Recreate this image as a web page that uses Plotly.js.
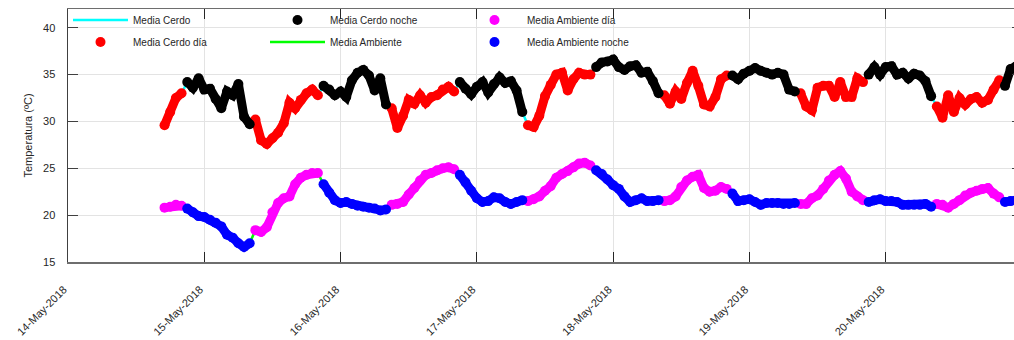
<!DOCTYPE html>
<html><head><meta charset="utf-8">
<script src="https://cdn.plot.ly/plotly-3.0.1.min.js"></script>
<style>html,body{margin:0;padding:0;overflow:hidden;background:#fff}#chart{width:1024px;height:340px}</style>
</head><body><div id="chart"></div><script>
// hourly samples starting 14-May-2018 17:00
const startTime = '2018-05-14T17:00:00Z';
const stepHours = 1;
const cerdo = [
29.6,31.0,32.5,33.0,34.2,33.6,34.6,33.4,33.5,32.4,
31.4,33.2,32.8,34.0,30.5,29.7,30.2,28.0,27.6,28.2,
28.8,29.8,32.0,31.4,32.3,33.0,33.4,32.8,33.8,33.4,
32.8,33.2,32.6,34.4,35.2,35.5,34.9,33.3,34.6,31.8,
31.4,29.3,30.6,32.3,31.9,32.8,32.0,32.6,32.8,33.4,
33.7,33.2,34.2,33.5,32.9,33.7,34.2,33.1,34.0,34.7,
34.1,34.3,33.3,31.0,29.6,29.4,30.6,32.7,33.9,35.0,
35.2,33.3,34.5,35.2,35.0,35.0,35.8,36.3,36.4,36.6,
35.8,35.5,35.9,36.0,35.2,35.3,34.3,33.0,32.8,31.9,
33.2,32.4,34.1,35.4,33.8,31.8,31.6,32.6,34.5,34.9,
34.9,34.5,35.1,35.4,35.7,35.4,35.2,35.0,35.2,35.0,
33.4,33.2,33.0,31.6,31.2,33.6,33.8,33.8,32.6,34.2,
32.6,32.6,34.6,34.2,35.0,35.8,35.0,35.8,35.9,35.0,
35.2,34.6,35.1,34.9,34.3,32.7,31.6,30.4,32.8,31.0,
32.5,31.8,32.4,32.6,32.0,32.3,33.4,34.4,33.8,35.6,
35.9];
const ambiente = [
20.8,20.9,21.1,21.0,20.7,20.3,19.9,19.8,19.5,19.2,
18.8,17.9,17.6,17.0,16.6,17.0,18.4,18.2,18.7,20.3,
21.3,21.8,22.0,23.3,24.0,24.3,24.5,24.5,23.3,22.4,
21.6,21.3,21.4,21.2,21.0,20.9,20.8,20.7,20.5,20.6,
21.1,21.2,21.4,22.2,22.9,23.7,24.3,24.5,24.8,25.0,
25.1,24.9,24.3,23.5,22.6,21.8,21.4,21.5,21.9,21.8,
21.4,21.2,21.4,21.6,21.5,21.7,22.0,22.6,23.1,24.0,
24.4,24.7,25.1,25.5,25.6,25.3,24.8,24.4,23.8,23.2,
22.8,22.0,21.4,21.6,21.8,21.5,21.5,21.6,21.5,21.6,
22.0,23.0,23.7,24.1,24.3,22.9,22.5,22.6,23.0,22.8,
22.3,21.5,21.6,21.7,21.4,21.1,21.3,21.3,21.3,21.2,
21.2,21.3,21.2,21.2,21.8,22.1,22.8,23.7,24.3,24.7,
23.9,22.5,22.0,21.6,21.4,21.6,21.7,21.5,21.5,21.4,
21.1,21.1,21.1,21.1,21.2,20.9,21.2,21.1,20.8,21.2,
21.6,22.1,22.4,22.6,22.8,22.9,22.3,21.9,21.4,21.5,
21.6];
const nightStartHour = 20.75;
const nightEndHour = 8.25;
const tickDates = ['2018-05-14','2018-05-15','2018-05-16','2018-05-17','2018-05-18','2018-05-19','2018-05-20','2018-05-21'];
const tickLabels = ['14-May-2018','15-May-2018','16-May-2018','17-May-2018','18-May-2018','19-May-2018','20-May-2018','21-May-2018'];
const yTicks = [15,20,25,30,35,40];

const t0 = Date.parse(startTime);
const times = cerdo.map((_, i) => new Date(t0 + i*stepHours*3600e3).toISOString().slice(0,16).replace('T',' '));
const isNight = times.map(s => { const d = new Date(s.replace(' ','T')+':00Z'); const h = d.getUTCHours()+d.getUTCMinutes()/60; return h >= nightStartHour || h < nightEndHour; });
const pick = (arr, night) => arr.map((v,i) => isNight[i] === night ? v : null);

const F = 'Liberation Sans, Arial, Helvetica, sans-serif';
const MS = 10, LW = 9;
function band(name, y, color, legend, rank) {
  return [
    {x: times, y: y, mode: 'lines', line: {color: color, width: LW}, showlegend: false, hoverinfo: 'skip', connectgaps: false},
    {x: times, y: y, mode: 'markers', name: name, marker: {color: color, size: MS}, legend: legend, legendrank: rank}
  ];
}
const data = [
  {x: times, y: cerdo, mode: 'lines', name: 'Media Cerdo', line: {color: '#00ffff', width: 2.5}, legend: 'legend', legendrank: 1},
  {x: times, y: ambiente, mode: 'lines', name: 'Media Ambiente', line: {color: '#00ff00', width: 2.5}, legend: 'legend2', legendrank: 2},
  ...band('Media Cerdo día', pick(cerdo, false), '#ff0000', 'legend2', 1),
  ...band('Media Cerdo noche', pick(cerdo, true), '#000000', 'legend', 2),
  ...band('Media Ambiente día', pick(ambiente, false), '#ff00ff', 'legend', 3),
  ...band('Media Ambiente noche', pick(ambiente, true), '#0000ff', 'legend2', 3)
];
const plotTop = 9, plotBottom = 262;
const legBase = {orientation: 'h', xref: 'paper', yref: 'paper', xanchor: 'left', yanchor: 'middle', x: 0,
  bgcolor: 'rgba(0,0,0,0)', borderwidth: 0, font: {family: F, size: 10, color: '#262626'},
  entrywidth: 127, entrywidthmode: 'pixels', itemwidth: 55, traceorder: 'normal'};
const pad = '\u00A0\u00A0';
const layout = {
  width: 1024, height: 340,
  margin: {l: 68, r: 2, t: plotTop, b: 340 - plotBottom},
  paper_bgcolor: '#fff', plot_bgcolor: '#fff',
  font: {family: F, size: 11, color: '#262626'},
  showlegend: true,
  legend: Object.assign({}, legBase, {y: (plotBottom - 20) / (plotBottom - plotTop)}),
  legend2: Object.assign({}, legBase, {y: (plotBottom - 42) / (plotBottom - plotTop)}),
  xaxis: {type: 'date', range: [tickDates[0], tickDates[tickDates.length-1]], tickvals: tickDates, ticktext: tickLabels.map(s => s + pad),
    tickangle: -45, showgrid: true, gridcolor: '#e3e3e3', gridwidth: 1, showline: true, linecolor: '#6e6e6e', linewidth: 1.5,
    mirror: 'ticks', ticks: 'inside', ticklen: 10, tickcolor: '#262626', zeroline: false, ticklabelstandoff: 11,
    tickfont: {family: F, size: 11, color: '#262626'}},
  yaxis: {range: [15, 42], tickvals: yTicks, showgrid: true, gridcolor: '#e3e3e3', gridwidth: 1, showline: true,
    linecolor: '#404040', linewidth: 1.5, mirror: 'ticks', ticks: 'inside', ticklen: 10, tickcolor: '#404040', zeroline: false,
    ticklabelstandoff: 9, tickfont: {family: F, size: 11, color: '#262626'},
    title: {text: 'Temperatura (ºC)', font: {family: F, size: 11, color: '#262626'}, standoff: 8}}
};
Plotly.newPlot('chart', data, layout, {staticPlot: true});
</script></body></html>
